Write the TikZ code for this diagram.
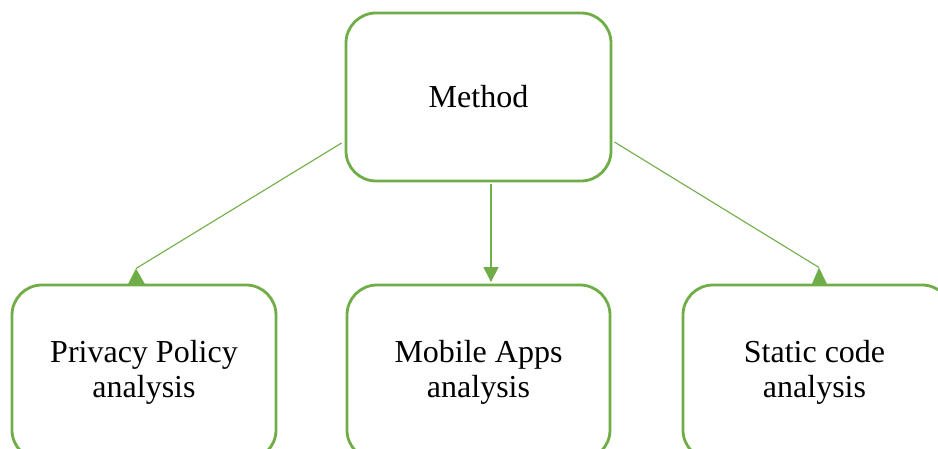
\documentclass[tikz,border=0pt]{standalone}
\usepackage{fontspec}
\setmainfont{Liberation Serif}
\usetikzlibrary{arrows.meta}
\definecolor{ogreen}{HTML}{70AD47}
\begin{document}
\begin{tikzpicture}[x=1pt,y=1pt,
  box/.style={draw=ogreen,line width=2.8pt,fill=white,rounded corners=30pt,
    minimum width=264pt,inner sep=0pt,align=center,
    font=\fontsize{32}{35}\selectfont},
  conn/.style={draw=ogreen,line width=1.1pt},
  headfill/.style={fill=ogreen,draw=none}]
\useasboundingbox (0,0) rectangle (938,448);
\clip (0,0) rectangle (938,448);
\node[box,minimum height=168pt,minimum width=265pt,text depth=2pt] (m) at (478.5,351) {Method};
\node[box,minimum height=175pt] (pp) at (144,75.5) {Privacy Policy\\analysis};
\node[box,minimum height=175pt,minimum width=263pt] (ma) at (478.5,75.5) {Mobile Apps\\analysis};
\node[box,minimum height=175pt,minimum width=269pt] (sc) at (817.5,75.5)
  {\begin{tabular}{@{}c@{}}Static code\\analysis\end{tabular}\hspace*{6pt}};
% connectors
\coordinate (lt) at (136,179.5);
\coordinate (rt) at (819,180.5);
\draw[conn] ([xshift=-3pt,yshift=-46pt]m.west) -- (lt);
\fill[headfill] (lt) -- ([xshift=-16.5pt,yshift=-1.5pt]pp.north) -- ([xshift=1.5pt,yshift=-1.5pt]pp.north) -- cycle;
\draw[conn] ([xshift=2pt,yshift=-45pt]m.east) -- (rt);
\fill[headfill] (rt) -- ([xshift=-6pt,yshift=-1.5pt]sc.north) -- ([xshift=10pt,yshift=-1.5pt]sc.north) -- cycle;
\draw[conn,-{Triangle[width=15pt,length=15pt]}] ([xshift=12.5pt,yshift=-1.5pt]m.south) -- ([xshift=12.5pt,yshift=1.5pt]ma.north);
\end{tikzpicture}
\end{document}
